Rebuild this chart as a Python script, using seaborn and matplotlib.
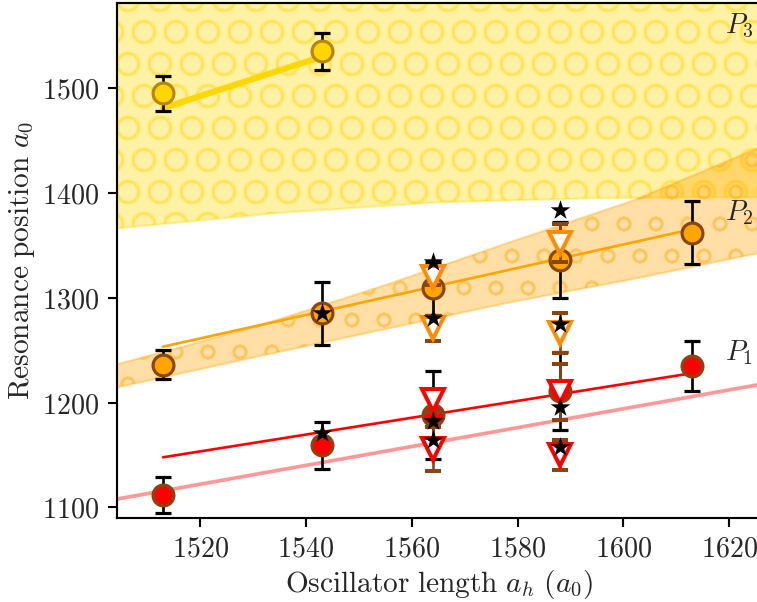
import numpy as np
import pandas as pd
import matplotlib
matplotlib.use("Agg")
import matplotlib.pyplot as plt
import seaborn as sns
from matplotlib.ticker import FuncFormatter, FixedLocator

# ---------------- data ----------------
osc_len = [1513, 1543, 1564, 1588, 1613]
p1_pos = [1112, 1159, 1188, 1211, 1235]
p1_err = [17, 22, 42, 37, 24]
p2_pos = [1236, 1285, 1309, 1336, 1362]
p2_err = [14, 30, 25, 36, 30]
p3_len = [1513, 1543]
p3_pos = [1495, 1535]
p3_err = [16.5, 17.3]

star_len = [1543, 1543, 1564, 1564, 1564, 1564, 1588, 1588, 1588, 1588]
star_pos = [1285, 1171, 1334.5, 1281, 1182, 1164, 1384, 1275, 1196, 1158]

tri_len = [1564, 1588]
p2_tri_hi = [1320, 1352]
p2_tri_hi_err = [8, 18]
p2_tri_lo = [1271, 1266]
p2_tri_lo_err = [12, 19]
p1_tri_hi = [1202, 1210]
p1_tri_hi_err = [11, 27]
p1_tri_lo = [1156, 1150]
p1_tri_lo_err = [21, 14]

fit_len = [1513, 1613]
p1_fit = [1147.7, 1228]
p2_fit = [1253.3, 1365.4]
p3_fit_len = [1513, 1543]
p3_fit = [1481, 1530]
trend_len = [1500, 1630]
trend_pos = [1104, 1221]

band_len = [1504, 1531, 1555, 1578, 1602, 1627]
p2_band_lo = [1214, 1244, 1270, 1295, 1318, 1344]
p2_band_hi = [1236, 1273, 1312, 1352, 1393, 1446]
p3_band_len = [1504, 1535, 1565, 1595, 1627]
p3_band_lo = [1366, 1381, 1391, 1395, 1396]
p3_band_hi = [1650, 1650, 1650, 1650, 1650]

peak_labels = ["$P_1$", "$P_2$", "$P_3$"]
peak_label_pos = [1247.5, 1381, 1559]

xticks = [1520, 1540, 1560, 1580, 1600, 1620]
yticks = [1100, 1200, 1300, 1400, 1500]

# ---------------- style ----------------
sns.set_style("ticks")
plt.rcParams["mathtext.fontset"] = "cm"
plt.rcParams["font.family"] = ["DejaVu Serif"]
plt.rcParams["hatch.linewidth"] = 1.0

RED = "#FF0000"
ORANGE = "#FFA500"
GOLD = "#FFD700"
BROWN = "#8B4513"

DPI = 192
fig = plt.figure(figsize=(757 / DPI, 602 / DPI), dpi=DPI)
ax = fig.add_axes([116.7 / 757, 1 - 518.3 / 602, (762 - 116.7) / 757, 515.0 / 602])

# bands
ax.fill_between(p3_band_len, p3_band_lo, p3_band_hi, facecolor=GOLD, edgecolor=GOLD,
                hatch="O", alpha=0.35, lw=0.8, zorder=1)
ax.fill_between(band_len, p2_band_lo, p2_band_hi, facecolor=ORANGE, edgecolor=ORANGE,
                hatch="o", alpha=0.35, lw=0.8, zorder=1.1)

# fit lines
sns.lineplot(x=trend_len, y=trend_pos, ax=ax, color=RED, alpha=0.4, lw=1.4, zorder=2)
sns.lineplot(x=fit_len, y=p1_fit, ax=ax, color=RED, lw=1.0, zorder=2)
sns.lineplot(x=fit_len, y=p2_fit, ax=ax, color=ORANGE, lw=1.0, zorder=2)
sns.lineplot(x=p3_fit_len, y=p3_fit, ax=ax, color=GOLD, lw=2.3, zorder=2)

# circles with error bars
common = dict(fmt="o", ms=7.8, mew=1.2, ecolor="black", elinewidth=1.0,
              capsize=3.1, capthick=1.1, zorder=3)
ax.errorbar(osc_len, p1_pos, yerr=p1_err, mfc=RED, mec=BROWN, **common)
ax.errorbar(osc_len, p2_pos, yerr=p2_err, mfc=ORANGE, mec=BROWN, **common)
ax.errorbar(p3_len, p3_pos, yerr=p3_err, mfc=GOLD, mec="#B8860B", **common)

# triangles
tri = dict(fmt="v", ms=8, mew=1.5, mfc="white", ecolor=BROWN, elinewidth=1.0,
           capsize=3.1, capthick=1.1, zorder=4)
ax.errorbar(tri_len, p2_tri_hi, yerr=p2_tri_hi_err, mec="#FF8C00", **tri)
ax.errorbar(tri_len, p2_tri_lo, yerr=p2_tri_lo_err, mec="#FF8C00", **tri)
ax.errorbar(tri_len, p1_tri_hi, yerr=p1_tri_hi_err, mec=RED, **tri)
ax.errorbar(tri_len, p1_tri_lo, yerr=p1_tri_lo_err, mec=RED, **tri)

# stars
sns.scatterplot(x=star_len, y=star_pos, ax=ax, marker="*", s=60, color="black",
                linewidth=0, zorder=5)

# peak labels
for lab, yv in zip(peak_labels, peak_label_pos):
    ax.text(1619.2, yv, lab, fontsize=10.5, ha="left", va="center", zorder=6)

ax.set_xlim(1504.25, 1626.2)
ax.set_ylim(1089.5, 1581)
ax.xaxis.set_major_locator(FixedLocator(xticks))
ax.yaxis.set_major_locator(FixedLocator(yticks))
fmt = FuncFormatter(lambda v, p: f"${v:.0f}$")
ax.xaxis.set_major_formatter(fmt)
ax.yaxis.set_major_formatter(fmt)
ax.tick_params(axis="both", labelsize=10.5, length=3.5, width=0.8, color="black",
               direction="out", pad=3)
for s in ax.spines.values():
    s.set_color("black")
    s.set_linewidth(0.8)

ax.set_xlabel(r"$\mathrm{Oscillator\ length}\ a_h\ (a_0)$", fontsize=11, labelpad=2)
ax.set_ylabel(r"$\mathrm{Resonance\ position}\ a_0$", fontsize=11, labelpad=2)

fig.savefig("out.png", dpi=DPI)
